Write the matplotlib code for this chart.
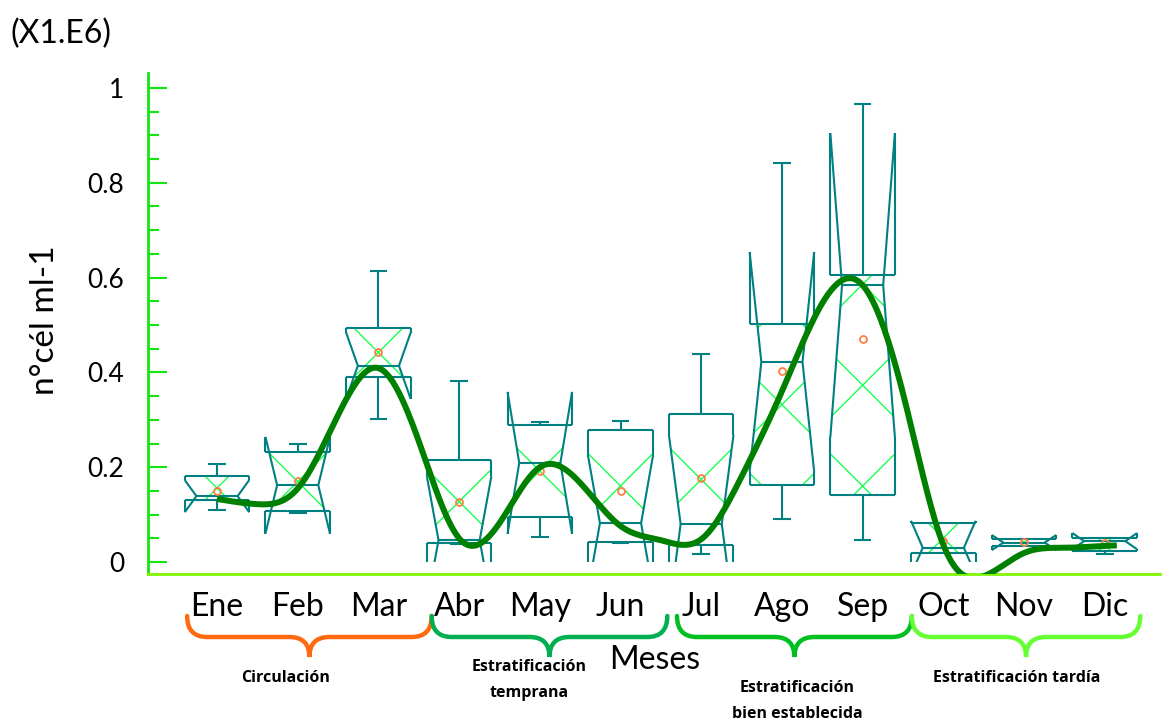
import numpy as np
import matplotlib
matplotlib.use("Agg")
import matplotlib.pyplot as plt
from matplotlib.path import Path
from matplotlib.patches import PathPatch, Polygon, Rectangle

# Monthly cell counts (x 1e6 cells per ml)
months = ["Ene", "Feb", "Mar", "Abr", "May", "Jun", "Jul", "Ago", "Sep", "Oct", "Nov", "Dic"]
q1 = [0.131, 0.107, 0.390, 0.040, 0.095, 0.042, 0.036, 0.162, 0.141, 0.019, 0.034, 0.023]
medians = [0.139, 0.162, 0.414, 0.046, 0.209, 0.082, 0.080, 0.422, 0.584, 0.030, 0.041, 0.044]
q3 = [0.181, 0.232, 0.494, 0.215, 0.289, 0.279, 0.312, 0.502, 0.605, 0.082, 0.048, 0.050]
notch = [0.034, 0.102, 0.070, 0.135, 0.150, 0.140, 0.188, 0.232, 0.321, 0.057, 0.016, 0.017]
whisk_lo = [0.110, 0.103, 0.302, 0.038, 0.053, 0.040, 0.017, 0.091, 0.046, 0.019, 0.034, 0.017]
whisk_hi = [0.207, 0.249, 0.614, 0.382, 0.295, 0.298, 0.439, 0.842, 0.966, 0.082, 0.048, 0.050]
means = [0.150, 0.171, 0.443, 0.127, 0.192, 0.150, 0.177, 0.403, 0.470, 0.044, 0.042, 0.040]

# smoothed seasonal trend
trend_x = [1.0, 1.5, 2.0, 2.5, 3.0, 3.5, 4.0, 4.5, 5.0, 5.5, 6.0, 6.5, 7.0, 7.5,
           8.0, 8.5, 9.0, 9.5, 10.0, 10.5, 11.0, 11.5, 12.0, 12.15]
trend_y = [0.133, 0.122, 0.155, 0.31, 0.409, 0.255, 0.05, 0.082, 0.200, 0.167, 0.076, 0.046,
           0.048, 0.18, 0.36, 0.546, 0.584, 0.356, 0.036, -0.03, 0.019, 0.030, 0.034, 0.035]

# seasonal periods (month spans of the braces)
periods = [["Circulación"], ["Estratificación", "temprana"],
           ["Estratificación", "bien establecida"], ["Estratificación tardía"]]
period_spans = [(0.63, 3.66), (3.66, 6.58), (6.70, 9.61), (9.61, 12.44)]
period_colors = ["#FF6A10", "#00B050", "#00C020", "#66FF33"]
label_shift = [-24, -20, 3, -9]   # px, label centre relative to brace tip
label_top = [678, 667, 688, 678]  # px from top of figure

BOX = "#008080"
HATCH = "#19FF50"
W, H = 1163, 721

plt.rcParams["font.family"] = ["Lato", "DejaVu Sans"]

fig = plt.figure(figsize=(W / 100, H / 100), dpi=100)
ax = fig.add_axes([148 / W, 147 / H, 1012 / W, 501 / H])
ax.set_xlim(0.145, 12.685)
ax.set_ylim(-0.0253, 1.0316)

px_x = ax.transData.transform((1, 0))[0] - ax.transData.transform((0, 0))[0]
px_y = ax.transData.transform((0, 1))[1] - ax.transData.transform((0, 0))[1]
slope = px_x / px_y  # 45 degrees on screen

above_zero = Rectangle((-5, 0), 30, 5, transform=ax.transData)

hw, hw_w, cap = 0.40, 0.255, 0.11
for i in range(len(months)):
    xc = i + 1
    a, m, b, n = q1[i], medians[i], q3[i], notch[i]
    lo, hi = m - n, m + n

    def half(y):
        d = abs(y - m)
        return hw if d >= n else hw_w + (hw - hw_w) * d / n

    # hatch inside the notched box
    ys = sorted({a, b, m} | {v for v in (lo, hi) if a < v < b}, reverse=True)
    pts = [(xc - half(y), y) for y in ys] + [(xc + half(y), y) for y in ys[::-1]]
    clip = Polygon(pts, closed=True, transform=ax.transData)
    yc = (a + b) / 2
    xs = np.array([xc - hw, xc + hw])
    for k in range(-4, 5):
        for sgn in (1, -1):
            ln, = ax.plot(xs, yc + k * 1.25 * slope + sgn * slope * (xs - xc),
                          color=HATCH, lw=1.0, zorder=2)
            ln.set_clip_path(clip)

    segs = [
        ([xc - hw, xc + hw], [b, b]),
        ([xc - hw, xc + hw], [a, a]),
        ([xc - hw_w, xc + hw_w], [m, m]),
        ([xc - hw, xc - hw_w, xc - hw], [hi, m, lo]),
        ([xc + hw, xc + hw_w, xc + hw], [hi, m, lo]),
        ([xc - hw, xc - hw], [b, hi]),
        ([xc + hw, xc + hw], [b, hi]),
        ([xc - hw, xc - hw], [a, lo]),
        ([xc + hw, xc + hw], [a, lo]),
    ]
    if whisk_hi[i] > b:
        segs += [([xc, xc], [b, whisk_hi[i]]), ([xc - cap, xc + cap], [whisk_hi[i]] * 2)]
    if whisk_lo[i] < a:
        segs += [([xc, xc], [a, whisk_lo[i]]), ([xc - cap, xc + cap], [whisk_lo[i]] * 2)]
    for sx, sy in segs:
        ln, = ax.plot(sx, sy, color=BOX, lw=1.5, zorder=3, solid_capstyle="butt")
        ln.set_clip_path(above_zero)

ax.plot(range(1, 13), means, "o", mfc="none", mec="#FF7F40", ms=5, mew=1.3, zorder=4)


# natural cubic spline through the trend knots
def spline(x, y, xn):
    x, y = np.asarray(x), np.asarray(y)
    n = len(x)
    h = np.diff(x)
    A = np.zeros((n, n))
    r = np.zeros(n)
    A[0, 0] = A[-1, -1] = 1
    for j in range(1, n - 1):
        A[j, j - 1] = h[j - 1]
        A[j, j] = 2 * (h[j - 1] + h[j])
        A[j, j + 1] = h[j]
        r[j] = 6 * ((y[j + 1] - y[j]) / h[j] - (y[j] - y[j - 1]) / h[j - 1])
    M = np.linalg.solve(A, r)
    idx = np.clip(np.searchsorted(x, xn) - 1, 0, n - 2)
    t0, t1, hh = xn - x[idx], x[idx + 1] - xn, h[idx]
    return (M[idx] * t1 ** 3 + M[idx + 1] * t0 ** 3) / (6 * hh) \
        + (y[idx] / hh - M[idx] * hh / 6) * t1 + (y[idx + 1] / hh - M[idx + 1] * hh / 6) * t0


xs = np.linspace(trend_x[0], trend_x[-1], 600)
ax.plot(xs, spline(trend_x, trend_y, xs), color="#008000", lw=4.3, zorder=5,
        solid_capstyle="butt")

# axes styling
for s in ("top", "right"):
    ax.spines[s].set_visible(False)
ax.spines["left"].set_color("#10E610")
ax.spines["left"].set_linewidth(2)
ax.spines["bottom"].set_color("#80F500")
ax.spines["bottom"].set_linewidth(2)
ax.set_yticks([0, 0.2, 0.4, 0.6, 0.8, 1.0], ["0", "0.2", "0.4", "0.6", "0.8", "1"])
ax.set_yticks(np.arange(0.05, 1.0, 0.05), minor=True)
ax.tick_params(axis="y", which="major", direction="in", length=14, width=1.5,
               color="#10E610", labelsize=19, pad=17)
ax.tick_params(axis="y", which="minor", direction="in", length=8, width=1.5, color="#10E610")
ax.set_xticks(range(1, 13), months)
ax.tick_params(axis="x", length=0, labelsize=23, pad=13)

fig.text(10 / W, 1 - 34 / H, "(X1.E6)", fontsize=23, va="center", ha="left")
fig.text(45 / W, 1 - 320 / H, "n°cél ml-1", fontsize=24, rotation=90, va="center", ha="center")
fig.text(655 / W, 1 - 660 / H, "Meses", fontsize=23, va="center", ha="center")

# period braces under the month labels
ov = fig.add_axes([0, 0, 1, 1], facecolor="none")
ov.set_xlim(0, W)
ov.set_ylim(0, H)
ov.axis("off")
top, mid, tip, r = H - 616, H - 637, H - 657, 20
for names, (m0, m1), col, dx, ty in zip(periods, period_spans, period_colors,
                                        label_shift, label_top):
    x0 = ax.transData.transform((m0, 0))[0]
    x1 = ax.transData.transform((m1, 0))[0]
    xm = (x0 + x1) / 2
    verts = [(x0, top), (x0, mid), (x0 + r, mid), (xm - r, mid), (xm, mid), (xm, tip),
             (xm, mid), (xm + r, mid), (x1 - r, mid), (x1, mid), (x1, top)]
    codes = [Path.MOVETO, Path.CURVE3, Path.CURVE3, Path.LINETO, Path.CURVE3, Path.CURVE3,
             Path.CURVE3, Path.CURVE3, Path.LINETO, Path.CURVE3, Path.CURVE3]
    ov.add_patch(PathPatch(Path(verts, codes), fill=False, ec=col, lw=3.2, capstyle="round"))
    for j, name in enumerate(names):
        ov.text(xm + dx, H - ty - j * 26, name, fontsize=11.5, fontweight="bold",
                family=["Open Sans", "DejaVu Sans"], ha="center", va="center")

fig.savefig("out.png", dpi=100)
